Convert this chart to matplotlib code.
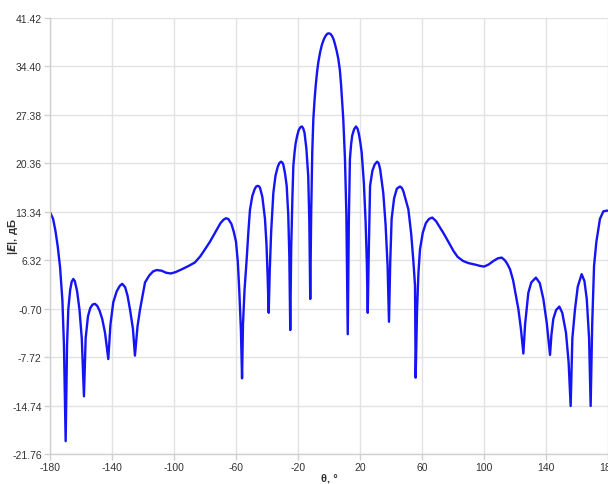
import numpy as np
import matplotlib
matplotlib.use('Agg')
import matplotlib.pyplot as plt

# Radiation pattern |E| (dB) vs theta (deg)
theta = [
    -180, -178, -176.5, -175, -173.5, -172, -171, -169.9, -169, -168.2,
    -167, -166, -165, -164, -162.5, -161, -159.5, -158.1, -157, -155.5,
    -154, -152.5, -151, -149.5, -148, -146.3, -144.5, -142.4, -141, -139.2,
    -137, -135, -133.4, -131.5, -130, -128.4, -126.5, -125.2, -123.5, -121.9,
    -120, -118.7, -116, -113.5, -111.2, -108, -105, -102, -99, -95,
    -90.5, -86.5, -83, -80, -76.8, -73, -70, -68, -66.5, -65,
    -63, -61.5, -60, -58.8, -57.8, -56.8, -56.1, -55.5, -54.5, -53.1,
    -52, -51, -49.5, -48, -47, -46, -45, -44.5, -43, -41.3, -40.3, -39.6,
    -38.9, -38.2, -37.3, -35.9, -34.5, -33, -32, -31, -30.2, -29.5, -28.3, -27.3,
    -26.3, -25.6, -25, -24.4, -23.6, -23, -22.2, -21.5, -20.5, -19.5, -18.4,
    -17.4, -16.6, -15.8, -14.6, -13.4, -12.7, -12.1, -11.5, -10.8, -10.1,
    -9.3, -8.5, -7.7, -6.9, -5.7, -4.5, -3.2, -2, -1, 0,
    1, 2, 3, 4, 5, 6, 7, 7.8, 8.5, 9.2,
    10.3, 11.2, 12.1, 12.8, 13.5, 14.3, 15, 16.2, 17.4, 18.4,
    19.3, 20.2, 21.1, 22.5, 23.6, 24.4, 25,
    25.7, 26.5, 28, 29.5, 31, 32, 33, 35, 36.5, 37.8, 38.7, 39.5,
    40.4, 42, 43.8, 45.8, 47, 48, 51.2, 53, 54.5, 55.5, 55.9,
    56.8, 57.7, 58.7, 60.5, 62.5, 64.5, 66.6, 69, 71.5, 73.7,
    77, 80.2, 83, 86.6, 90, 94, 97.4, 100, 103, 106,
    109, 111.4, 113.5, 115, 116.8, 118.8, 120.5, 122.2, 123.8, 125.4,
    126.5, 128.6, 130.5, 133.5, 136, 138.3, 140.5, 142.6, 143.5, 144.7,
    146.5, 148.6, 150.5, 152.9, 154.6, 155.9, 157, 158.7, 160.5, 163,
    164.8, 166.3, 167.8, 168.8, 169.8, 171, 172.5, 174.8, 177, 179.1,
    180,
]
e_db = [
    13.3, 12.3, 10.6, 8.3, 5.3, 0.5, -6, -19.9, -6, -0.8,
    2.0, 3.2, 3.6, 3.3, 1.8, -0.8, -5, -13.4, -5, -1.8,
    -0.6, -0.1, 0.0, -0.3, -1.0, -2.2, -4.2, -8.0, -3.0, 0.2,
    1.8, 2.6, 2.9, 2.4, 1.2, -0.8, -3.6, -7.5, -3.2, -0.8,
    1.5, 3.1, 4.1, 4.7, 4.9, 4.8, 4.5, 4.4, 4.6, 5.0,
    5.5, 6.0, 6.9, 7.9, 9.0, 10.5, 11.7, 12.2, 12.4, 12.3,
    11.6, 10.5, 9.0, 6.0, 1.5, -4, -10.8, -3, 2, 6.5,
    10.5, 13.6, 15.6, 16.6, 17.0, 17.1, 17.0, 16.8, 15.5, 12.3, 8.5, 4,
    -1.3, 5, 10.5, 16.1, 18.6, 19.9, 20.4, 20.6, 20.5, 20.2, 18.8, 17.1,
    13, 7, -3.8, 8, 15.5, 20.0, 22.0, 23.3, 24.4, 25.2, 25.6,
    25.7, 25.4, 24.8, 22.5, 18.5, 12, 0.7, 13, 22, 26.8,
    29.6, 31.8, 33.6, 35.0, 36.5, 37.6, 38.4, 38.9, 39.15, 39.2,
    39.1, 38.8, 38.3, 37.5, 36.6, 35.5, 33.9, 31.7, 29.3, 26.8,
    21, 13, -4.4, 12, 21.0, 23.2, 24.4, 25.3, 25.7, 25.4,
    24.6, 23.4, 21.9, 17.5, 12, 6, -1.3,
    8, 17.1, 19.3, 20.2, 20.6, 20.4, 19.5, 16.1, 11.5, 5.5, -2.6, 6,
    12.3, 15.3, 16.7, 17.0, 16.8, 16.3, 13.7, 10.2, 6.0, 2.6, -10.7,
    -1, 4.5, 7.9, 10.3, 11.7, 12.3, 12.5, 12.0, 11.1, 10.3,
    9.0, 7.7, 6.8, 6.2, 5.9, 5.7, 5.5, 5.4, 5.7, 6.2,
    6.6, 6.7, 6.3, 5.8, 5.0, 3.4, 1.3, -0.8, -3.6, -7.2,
    -3, 1.6, 3.1, 3.8, 3.0, 0.7, -2.8, -7.4, -4.5, -2.2,
    -0.9, -0.4, -1.3, -4.2, -8.5, -14.8, -5, -0.8, 2.5, 4.3,
    3.3, 0.7, -5, -14.8, -3, 5.5, 9.0, 12.3, 13.4, 13.5,
    13.5,
]

x_ticks = [-180, -140, -100, -60, -20, 20, 60, 100, 140, 180]
y_ticks = [-21.76, -14.74, -7.72, -0.70, 6.32, 13.34, 20.36, 27.38, 34.40, 41.42]

plt.rcParams['font.family'] = ['Liberation Sans', 'DejaVu Sans']

fig = plt.figure(figsize=(6.08, 4.85), dpi=100)
fig.patch.set_facecolor('white')
ax = fig.add_axes([50 / 608, 1 - 455 / 485, 1 - 50 / 608, (455 - 19) / 485])

ax.plot(theta, e_db, color='#1414f5', linewidth=1.7, solid_joinstyle='round')

ax.set_xlim(-180, 180)
ax.set_ylim(-21.76, 41.42)
ax.set_xticks(x_ticks)
ax.set_xticklabels([str(t) for t in x_ticks])
ax.set_yticks(y_ticks)
ax.set_yticklabels(['%.2f' % v for v in y_ticks])

ax.grid(True, color='#e2e2e2', linewidth=1.0)
ax.set_axisbelow(True)
for side in ['top', 'right']:
    ax.spines[side].set_visible(False)
for side in ['left', 'bottom']:
    ax.spines[side].set_color('#d0d0d0')
    ax.spines[side].set_linewidth(1.0)
ax.tick_params(axis='both', colors='#d0d0d0', labelcolor='#333333',
               labelsize=7.5, length=4, width=1.0, pad=2)

# axis titles placed by hand so they stay inside the small canvas
fig.text(13 / 608, 1 - 237 / 485, '|$\\mathbfit{E}$|, дБ', rotation=90,
         ha='center', va='center', fontsize=8, fontweight='bold', color='#333333')
fig.text(329 / 608, 1 / 485, 'θ, °', ha='center', va='bottom',
         fontsize=8, fontweight='bold', color='#333333')

plt.savefig('out.png', dpi=100)
